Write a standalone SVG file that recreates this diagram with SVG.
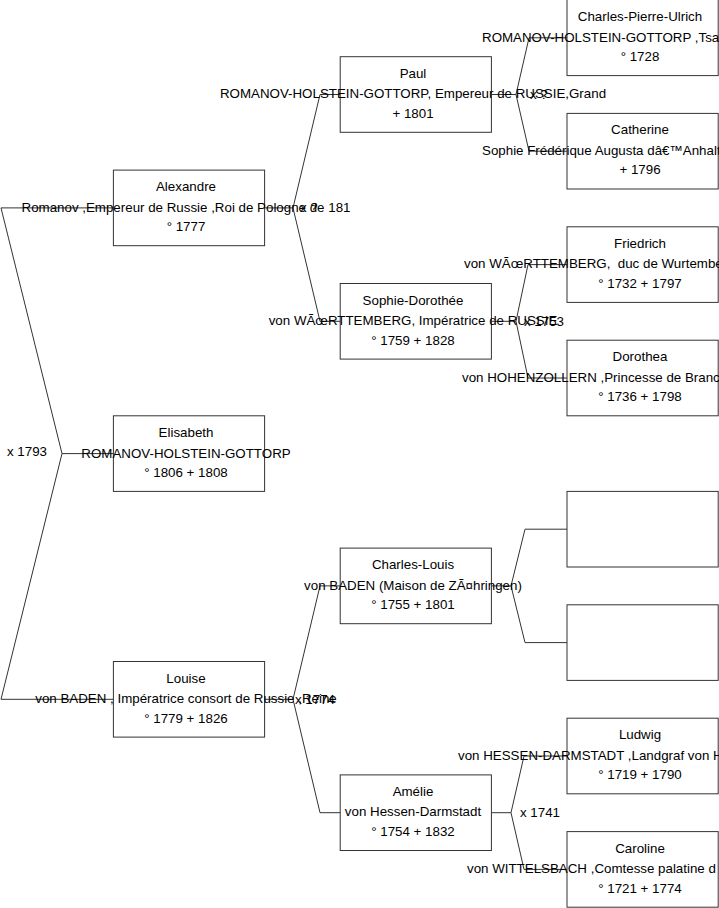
<svg xmlns="http://www.w3.org/2000/svg" width="719" height="908" viewBox="0 0 719 908">
<style>
.box{fill:none;stroke:#333;stroke-width:1}
.c{fill:none;stroke:#333;stroke-width:1}
text{font-family:"Liberation Sans",Arial,sans-serif;font-size:13.33px;fill:#000}
.m{text-anchor:middle}
.s{text-anchor:start}
.pre{white-space:pre}
</style>
<rect width="719" height="908" fill="#fff"/>
<g id="connectors">
<polyline class="c" points="113.4,207.9 1,207.9 62,453.6 1,699.3 113.4,699.3"/>
<line class="c" x1="62" y1="453.6" x2="113.4" y2="453.6"/>
<polyline class="c" points="340.2,94.5 320,94.5 293,207.9 320,321.3 340.2,321.3"/>
<line class="c" x1="264.6" y1="207.9" x2="293" y2="207.9"/>
<polyline class="c" points="340.2,585.9 320,585.9 293,699.3 320,812.7 340.2,812.7"/>
<line class="c" x1="264.6" y1="699.3" x2="293" y2="699.3"/>
<polyline class="c" points="567,37.8 529,37.8 516,94.5 529,151.2 567,151.2"/>
<line class="c" x1="491.4" y1="94.5" x2="516" y2="94.5"/>
<polyline class="c" points="567,264.6 528,264.6 516,321.3 528,378 567,378"/>
<line class="c" x1="491.4" y1="321.3" x2="516" y2="321.3"/>
<polyline class="c" points="567,529.2 525,529.2 511,585.9 525,642.6 567,642.6"/>
<line class="c" x1="491.4" y1="585.9" x2="511" y2="585.9"/>
<polyline class="c" points="567,756 524,756 511,812.7 524,869.4 567,869.4"/>
<line class="c" x1="491.4" y1="812.7" x2="511" y2="812.7"/>
<text class="s" x="7" y="456">x 1793</text>
<text class="s" x="300" y="212">x ?</text>
<text class="s" x="295" y="703.5">x 1774</text>
<text class="s" x="530" y="99">x ?</text>
<text class="s" x="524" y="326">x 1753</text>
<text class="s" x="520" y="817">x 1741</text>
</g>
<g id="n-alexandre">
<rect class="box" x="113.4" y="170.1" width="151.2" height="75.6"/>
<text class="m" x="186" y="191">Alexandre</text>
<text class="m" x="186" y="211.5">Romanov ,Empereur de Russie ,Roi de Pologne de 181</text>
<text class="m" x="186" y="231">° 1777</text>
</g>
<g id="n-elisabeth">
<rect class="box" x="113.4" y="415.8" width="151.2" height="75.6"/>
<text class="m" x="186" y="437">Elisabeth</text>
<text class="m" x="186" y="457.5">ROMANOV-HOLSTEIN-GOTTORP</text>
<text class="m" x="186" y="477">° 1806 + 1808</text>
</g>
<g id="n-louise">
<rect class="box" x="113.4" y="661.5" width="151.2" height="75.6"/>
<text class="m" x="186" y="682.5">Louise</text>
<text class="m" x="186" y="703">von BADEN , Impératrice consort de Russie ,Reine</text>
<text class="m" x="186" y="722.5">° 1779 + 1826</text>
</g>
<g id="n-paul">
<rect class="box" x="340.2" y="56.7" width="151.2" height="75.6"/>
<text class="m" x="413" y="77.7">Paul</text>
<text class="m" x="413" y="98.2">ROMANOV-HOLSTEIN-GOTTORP, Empereur de RUSSIE,Grand</text>
<text class="m" x="413" y="117.7">+ 1801</text>
</g>
<g id="n-sophie-dorothee">
<rect class="box" x="340.2" y="283.5" width="151.2" height="75.6"/>
<text class="m" x="413" y="304.5">Sophie-Dorothée</text>
<text class="m" x="413" y="325">von WÃœRTTEMBERG, Impératrice de RUSSIE</text>
<text class="m" x="413" y="344.5">° 1759 + 1828</text>
</g>
<g id="n-charles-louis">
<rect class="box" x="340.2" y="548.1" width="151.2" height="75.6"/>
<text class="m" x="413" y="569.1">Charles-Louis</text>
<text class="m" x="413" y="589.6">von BADEN (Maison de ZÃ¤hringen)</text>
<text class="m" x="413" y="609.1">° 1755 + 1801</text>
</g>
<g id="n-amelie">
<rect class="box" x="340.2" y="774.9" width="151.2" height="75.6"/>
<text class="m" x="413" y="795.9">Amélie</text>
<text class="m" x="413" y="816.4">von Hessen-Darmstadt</text>
<text class="m" x="413" y="835.9">° 1754 + 1832</text>
</g>
<g id="n-charles-pierre-ulrich">
<rect class="box" x="567" y="-0.5" width="151.2" height="76.1"/>
<text class="m" x="640" y="21">Charles-Pierre-Ulrich</text>
<text class="s" x="482" y="41.5">ROMANOV-HOLSTEIN-GOTTORP ,Tsa</text>
<text class="m" x="640" y="61">° 1728</text>
</g>
<g id="n-catherine">
<rect class="box" x="567" y="113.4" width="151.2" height="75.6"/>
<text class="m" x="640" y="134.4">Catherine</text>
<text class="s" x="482" y="154.9">Sophie Frédérique Augusta dâ€™Anhalt</text>
<text class="m" x="640" y="174.4">+ 1796</text>
</g>
<g id="n-friedrich">
<rect class="box" x="567" y="226.8" width="151.2" height="75.6"/>
<text class="m" x="640" y="247.8">Friedrich</text>
<text class="s pre" x="464" y="268.3">von WÃœRTTEMBERG,  duc de Wurtembe</text>
<text class="m" x="640" y="287.8">° 1732 + 1797</text>
</g>
<g id="n-dorothea">
<rect class="box" x="567" y="340.2" width="151.2" height="75.6"/>
<text class="m" x="640" y="361.2">Dorothea</text>
<text class="s" x="462" y="381.7">von HOHENZOLLERN ,Princesse de Branc</text>
<text class="m" x="640" y="401.2">° 1736 + 1798</text>
</g>
<g id="n-empty-1">
<rect class="box" x="567" y="491.4" width="151.2" height="75.6"/>
</g>
<g id="n-empty-2">
<rect class="box" x="567" y="604.8" width="151.2" height="75.6"/>
</g>
<g id="n-ludwig">
<rect class="box" x="567" y="718.2" width="151.2" height="75.6"/>
<text class="m" x="640" y="739.2">Ludwig</text>
<text class="s" x="458" y="759.7">von HESSEN-DARMSTADT ,Landgraf von H</text>
<text class="m" x="640" y="779.2">° 1719 + 1790</text>
</g>
<g id="n-caroline">
<rect class="box" x="567" y="831.6" width="151.2" height="75.6"/>
<text class="m" x="640" y="852.6">Caroline</text>
<text class="s" x="467" y="873.1">von WITTELSBACH ,Comtesse palatine d</text>
<text class="m" x="640" y="892.6">° 1721 + 1774</text>
</g>
</svg>
